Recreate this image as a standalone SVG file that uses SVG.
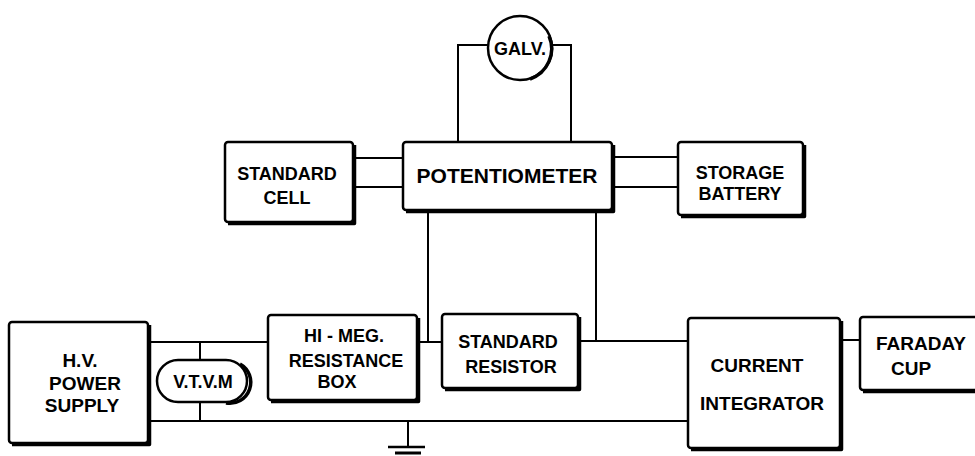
<svg xmlns="http://www.w3.org/2000/svg" width="975" height="456" viewBox="0 0 975 456">
<style>
.bg{fill:#fff}
.box{fill:#fff;stroke:#000;stroke-width:2.5}
.sh{fill:none;stroke:#000;stroke-width:3.5;stroke-linejoin:round}
.w{fill:none;stroke:#000;stroke-width:2}
text{font-family:"Liberation Sans",Arial,sans-serif;font-weight:bold;font-size:19px;fill:#000;text-anchor:middle}
</style>
<rect class="bg" x="0" y="0" width="975" height="456"/>
<g id="connectors">
<path class="w" d="M458,142 V45 H488"/>
<path class="w" d="M571,142 V45 H552"/>
<path class="w" d="M353,158 H403 M353,187 H403"/>
<path class="w" d="M612,157 H678 M612,187 H678"/>
<path class="w" d="M428,210 V342 M596,210 V341"/>
<path class="w" d="M148,342 H268"/>
<path class="w" d="M200,342 V360 M200,402 V421"/>
<path class="w" d="M148,421 H688"/>
<path class="w" d="M417,342 H442"/>
<path class="w" d="M578,341 H688"/>
<path class="w" d="M840,340 H860"/>
<path class="w" d="M408,421 V447"/>
<path class="w" d="M388,447 H425" style="stroke-width:2.5"/>
<path class="w" d="M395,453 H421" style="stroke-width:3"/>
</g>
<g id="galv">
<circle class="box" cx="520" cy="48" r="32"/>
<path class="sh" d="M549,36 A32,32 0 0 1 530,79"/>
<text x="520" y="55" style="font-size:18px">GALV.</text>
</g>
<g id="standard-cell">
<rect class="box" x="225" y="142" width="128" height="80" rx="3"/>
<path class="sh" d="M354.5,145 V223.5 H228"/>
<text x="287" y="180" style="font-size:18px">STANDARD</text>
<text x="287" y="204" style="font-size:18px">CELL</text>
</g>
<g id="potentiometer">
<rect class="box" x="403" y="142" width="209" height="68" rx="3"/>
<path class="sh" d="M613.5,145 V211.5 H406"/>
<text x="507" y="183" style="font-size:21px">POTENTIOMETER</text>
</g>
<g id="storage-battery">
<rect class="box" x="678" y="142" width="125" height="73" rx="3"/>
<path class="sh" d="M804.5,145 V216.5 H681"/>
<text x="740" y="179" style="font-size:18px">STORAGE</text>
<text x="740" y="200" style="font-size:18px">BATTERY</text>
</g>
<g id="hv-power-supply">
<rect class="box" x="9" y="322" width="139" height="121" rx="3"/>
<path class="sh" d="M149.5,325 V444.5 H12"/>
<text x="80" y="367">H.V.</text>
<text x="85" y="390">POWER</text>
<text x="82" y="412">SUPPLY</text>
</g>
<g id="vtvm">
<rect class="box" x="157" y="360" width="90" height="42" rx="21"/>
<path class="sh" d="M240,364 A21,21 0 0 1 226,403"/>
<text x="203" y="388" style="font-size:18px">V.T.V.M</text>
</g>
<g id="hi-meg-resistance-box">
<rect class="box" x="268" y="315" width="149" height="85" rx="3"/>
<path class="sh" d="M418.5,318 V401.5 H271"/>
<text x="344" y="342" style="font-size:18px">HI - MEG.</text>
<text x="346" y="367" style="font-size:18px">RESISTANCE</text>
<text x="337" y="388" style="font-size:18px">BOX</text>
</g>
<g id="standard-resistor">
<rect class="box" x="442" y="314" width="136" height="74" rx="3"/>
<path class="sh" d="M579.5,317 V389.5 H445"/>
<text x="508" y="348" style="font-size:18px">STANDARD</text>
<text x="511" y="373" style="font-size:18px">RESISTOR</text>
</g>
<g id="current-integrator">
<rect class="box" x="688" y="318" width="152" height="130" rx="3"/>
<path class="sh" d="M841.5,321 V449.5 H691"/>
<text x="757" y="372">CURRENT</text>
<text x="762" y="410">INTEGRATOR</text>
</g>
<g id="faraday-cup">
<rect class="box" x="860" y="317" width="125" height="73" rx="3"/>
<path class="sh" d="M863,391.5 H985"/>
<text x="921" y="350">FARADAY</text>
<text x="911" y="375">CUP</text>
</g>
</svg>
